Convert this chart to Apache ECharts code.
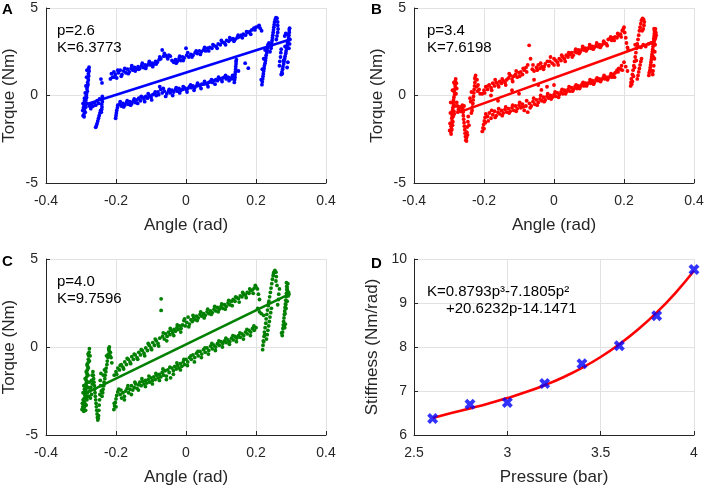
<!DOCTYPE html>
<html><head><meta charset="utf-8">
<script src="https://cdn.jsdelivr.net/npm/echarts@6/dist/echarts.min.js"></script>
<style>html,body{margin:0;padding:0;background:#fff}#c{width:708px;height:488px}</style>
</head><body><div id="c"></div>
<script>
// ---------- data ----------
const panelLetters = ['A', 'B', 'C', 'D'];
const angleTicks = [-0.4, -0.2, 0, 0.2, 0.4];
const torqueTicks = [-5, 0, 5];
const pressureTicks = [2.5, 3, 3.5, 4];
const stiffnessTicks = [6, 7, 8, 9, 10];
const annotA = ['p=2.6', 'K=6.3773'];
const annotB = ['p=3.4', 'K=7.6198'];
const annotC = ['p=4.0', 'K=9.7596'];
const annotD = ['K=0.8793p³-7.1805p²', '+20.6232p-14.1471'];
const angleName = 'Angle (rad)';
const torqueName = 'Torque (Nm)';
const pressureName = 'Pressure (bar)';
const stiffnessName = 'Stiffness (Nm/rad)';

// panel A (p = 2.6 bar) torque vs angle samples
const scatterA = [
[-0.277,1.62],[-0.278,1.5],[-0.277,1.38],[-0.279,1.25],[-0.278,1.12],[-0.28,1.0],[-0.279,0.88],[-0.281,0.75],[-0.28,0.62],[-0.282,0.5],[-0.283,0.38],[-0.282,0.25],[-0.284,0.12],[-0.285,0.0],[-0.284,-0.12],[-0.286,-0.25],[-0.288,-0.38],[-0.287,-0.5],[-0.29,-0.6],[-0.289,-0.72],[-0.291,-0.85],[-0.29,-0.98],[-0.292,-1.1],[-0.291,-1.22],[-0.29,-0.3],[-0.292,-0.5],[-0.293,-0.7],[-0.288,-0.95],[-0.286,-0.65],[-0.283,-0.45],
[-0.276,-0.6],[-0.272,-0.75],[-0.27,-0.5],[-0.266,-0.62],[-0.262,-0.42],[-0.258,-0.55],[-0.254,-0.3],[-0.25,-0.45],[-0.247,-0.2],
[-0.244,-0.85],[-0.246,-1.0],[-0.248,-1.15],[-0.25,-1.3],[-0.252,-1.45],[-0.254,-1.6],[-0.256,-1.72],[-0.258,-1.82],
[-0.239,-0.05],[-0.24,-0.2],[-0.239,-0.35],[-0.241,-0.5],[-0.24,-0.65],[-0.241,-0.8],[-0.242,-0.95],
[-0.243,0.94],[-0.24,0.72],
[-0.201,-1.3],[-0.2,-1.15],[-0.199,-1.0],[-0.198,-0.85],[-0.196,-0.7],[-0.195,-0.55],
[-0.19,-0.5],[-0.185,-0.6],[-0.18,-0.45],[-0.175,-0.55],[-0.17,-0.4],[-0.165,-0.5],[-0.16,-0.35],[-0.155,-0.45],[-0.15,-0.3],[-0.145,-0.4],[-0.14,-0.25],[-0.135,-0.15],[-0.13,-0.3],[-0.125,-0.1],[-0.12,-0.2],[-0.115,-0.05],[-0.11,-0.15],[-0.105,0.0],[-0.1,-0.1],[-0.095,0.05],[-0.09,0.1],[-0.085,0.0],[-0.08,0.2],[-0.075,0.5],[-0.072,0.35],[-0.068,0.15],[-0.062,0.25],[-0.055,0.1],[-0.05,0.25],[-0.045,0.15],[-0.04,0.3],[-0.035,0.2],[-0.03,0.35],[-0.025,0.25],[-0.02,0.4],[-0.015,0.3],[-0.01,0.35],[-0.005,0.45],[0.0,0.35],[0.005,0.4],[0.01,0.5],[0.015,0.45],[0.02,0.55],[0.025,0.45],[0.03,0.55],[0.035,0.6],[0.04,0.55],[0.045,0.65],[0.05,0.65],[0.055,0.7],[0.06,0.65],[0.065,0.75],[0.07,0.8],[0.075,0.75],[0.08,0.85],[0.085,0.9],[0.09,0.85],[0.095,0.95],[0.1,0.95],[0.105,1.0],[0.11,1.05],[0.115,0.95],[0.12,1.05],[0.125,1.0],[0.13,0.95],[0.135,1.05],
[0.138,0.75],[0.139,0.9],[0.14,1.05],[0.14,1.2],[0.141,1.35],[0.142,1.5],[0.142,1.65],[0.143,1.8],[0.143,1.95],[0.144,2.05],
[0.169,1.85],[0.178,1.56],[0.15,1.4],
[0.217,0.62],[0.218,0.78],[0.219,0.95],[0.22,1.1],[0.221,1.25],[0.222,1.4],[0.223,1.55],[0.224,1.7],[0.226,1.85],[0.227,2.0],[0.228,2.15],[0.229,2.3],[0.231,2.45],[0.232,2.6],[0.233,2.75],[0.234,2.9],
[0.243,2.7],[0.244,2.85],[0.245,3.0],[0.246,3.15],[0.247,3.3],[0.248,3.45],[0.249,3.6],[0.25,3.75],[0.251,3.9],[0.252,4.05],[0.253,4.2],[0.255,4.35],[0.257,4.45],[0.26,4.42],[0.262,4.2],[0.262,4.0],[0.263,3.8],[0.262,3.6],[0.26,3.4],[0.258,3.2],
[0.272,1.2],[0.274,1.35],[0.276,1.5],[0.277,1.65],[0.279,1.8],[0.28,1.95],[0.282,2.1],[0.283,2.25],[0.285,2.4],[0.286,2.55],[0.288,2.7],[0.289,2.85],[0.29,3.0],[0.292,3.15],[0.293,3.3],[0.294,3.45],[0.295,3.6],[0.295,3.75],[0.296,3.85],[0.297,3.2],[0.296,2.95],[0.294,2.7],[0.267,1.7],[0.268,1.95],[0.27,2.2],[0.271,2.45],[0.272,2.65],[0.285,3.55],[0.282,3.4],
[-0.216,0.95],[-0.213,1.25],[-0.21,1.05],[-0.206,1.35],[-0.202,1.2],[-0.198,1.0],[-0.193,1.3],[-0.188,1.45],[-0.183,1.2],[-0.178,1.4],[-0.172,1.3],[-0.167,1.5],[-0.162,1.35],[-0.157,1.55],[-0.152,1.45],[-0.147,1.6],[-0.142,1.5],[-0.137,1.65],[-0.132,1.55],[-0.127,1.7],[-0.122,1.6],[-0.117,1.75],[-0.112,1.7],[-0.107,1.8],[-0.102,1.75],[-0.097,1.85],[-0.092,1.8],[-0.087,1.95],[-0.082,1.9],[-0.077,2.05],[-0.072,2.1],[-0.068,2.6],[-0.064,2.25],[-0.059,2.3],[-0.054,2.2],[-0.049,2.3],[-0.04,2.0],[-0.035,1.9],[-0.03,2.05],[-0.025,1.95],[-0.02,2.1],[-0.015,2.0],[-0.01,2.2],[-0.005,2.15],[0.0,2.7],[0.002,2.3],[0.008,2.2],[0.014,2.35],[0.02,2.3],[0.026,2.45],[0.032,2.4],[0.038,2.55],[0.044,2.5],[0.05,2.6],[0.056,2.55],[0.062,2.7],[0.068,2.75],[0.074,2.7],[0.08,2.85],[0.086,2.8],[0.092,2.95],[0.098,2.9],[0.104,3.05],[0.11,3.0],[0.116,3.15],[0.122,3.1],[0.128,3.2],[0.134,3.25],[0.14,3.2],[0.146,3.3],[0.152,3.35],[0.158,3.45],[0.164,3.5],[0.17,3.45],[0.176,3.6],[0.182,3.65],[0.188,3.75],[0.194,3.85],[0.2,3.9],[0.206,3.95],[0.212,3.85],[0.216,3.7],
[-0.205,1.05],[-0.195,1.45],[-0.185,1.1],[-0.175,1.55],[-0.165,1.25],[-0.155,1.7],[-0.145,1.4],[-0.135,1.5],[-0.125,1.85],[-0.115,1.55],[-0.105,1.95],[-0.095,1.65],[-0.085,1.8],[-0.075,2.2],[-0.062,2.4],[-0.052,2.1],[-0.045,2.25],[-0.028,1.85],[-0.018,2.25],[-0.008,2.0],[0.005,2.45],[0.017,2.2],[0.029,2.55],[0.041,2.35],[0.053,2.75],[0.065,2.55],[0.077,2.9],[0.089,2.7],[0.101,3.15],[0.113,2.9],[0.125,3.3],[0.137,3.1],[0.149,3.45],[0.161,3.3],[0.173,3.65],[0.185,3.5],[0.197,3.75],[0.209,4.0],
[-0.188,-0.35],[-0.178,-0.65],[-0.168,-0.3],[-0.158,-0.55],[-0.148,-0.2],[-0.138,-0.45],[-0.128,-0.05],[-0.118,-0.35],[-0.108,0.1],[-0.098,-0.25],[-0.088,0.2],[-0.078,0.05],[-0.065,0.4],[-0.058,-0.05],[-0.048,0.35],[-0.038,0.0],[-0.028,0.45],[-0.018,0.15],[-0.008,0.5],[0.003,0.2],[0.013,0.6],[0.023,0.3],[0.033,0.7],[0.043,0.4],[0.053,0.8],[0.063,0.5],[0.073,0.9],[0.083,0.65],[0.093,1.05],[0.103,0.8],[0.113,1.15],[0.123,0.85],[0.133,1.15],
[-0.283,1.45],[-0.284,1.05],[-0.286,0.55],[-0.288,0.15],[-0.29,-0.15],[-0.294,-0.45],[-0.295,-0.85],[-0.294,-1.15],[0.215,0.9],[0.218,1.5],[0.222,2.1],[0.226,2.6],[0.237,3.0],[0.24,2.5],[0.275,1.25],[0.279,2.0],[0.283,2.8],[0.287,3.5],[0.291,1.9],[0.289,1.6]
];
const fitLineA = [[-0.289, -0.53], [0.297, 3.2]];

// panel B (p = 3.4 bar)
const scatterB = [
[-0.281,0.95],[-0.282,0.8],[-0.283,0.65],[-0.282,0.5],[-0.284,0.35],[-0.285,0.2],[-0.284,0.05],[-0.286,-0.1],[-0.287,-0.25],[-0.288,-0.4],[-0.287,-0.55],[-0.289,-0.7],[-0.29,-0.85],[-0.289,-1.0],[-0.291,-1.15],[-0.292,-1.3],[-0.291,-1.45],[-0.293,-1.6],[-0.294,-1.75],[-0.293,-1.9],[-0.295,-2.05],[-0.294,-2.2],[-0.29,-1.7],[-0.288,-1.2],[-0.286,-0.9],[-0.292,-1.95],[-0.289,-1.5],[-0.279,0.7],[-0.278,0.4],[-0.28,0.1],[-0.283,-0.6],[-0.285,-1.05],
[-0.276,-0.6],[-0.273,-0.8],[-0.27,-0.65],[-0.267,-0.9],[-0.264,-0.7],[-0.26,-0.85],[-0.257,-0.6],[-0.275,-0.95],[-0.278,-0.4],
[-0.262,-0.55],[-0.261,-0.75],[-0.26,-0.95],[-0.259,-1.15],[-0.258,-1.35],[-0.257,-1.55],[-0.256,-1.75],[-0.255,-1.95],[-0.254,-2.15],[-0.253,-2.35],[-0.252,-2.55],[-0.25,-2.4],[-0.249,-2.1],[-0.248,-1.8],[-0.246,-1.5],[-0.245,-1.2],
[-0.224,1.15],[-0.225,0.95],[-0.226,0.75],[-0.227,0.55],[-0.228,0.35],[-0.229,0.15],[-0.23,-0.05],[-0.231,-0.25],[-0.232,-0.45],[-0.233,-0.65],[-0.234,-0.85],[-0.236,-1.0],[-0.22,0.9],[-0.217,0.6],[-0.214,0.35],[-0.211,0.1],[-0.238,-0.35],[-0.24,-0.15],[-0.236,0.2],
[-0.205,-2.05],[-0.203,-1.85],[-0.201,-1.65],[-0.199,-1.45],[-0.197,-1.25],[-0.195,-1.05],[-0.2,-1.9],[-0.196,-1.55],
[-0.19,-1.2],[-0.185,-1.0],[-0.18,-1.3],[-0.175,-1.1],[-0.17,-0.9],[-0.165,-1.15],[-0.16,-0.95],[-0.155,-1.05],[-0.15,-0.85],[-0.145,-1.0],[-0.14,-0.8],[-0.135,-0.95],[-0.13,-0.75],[-0.125,-0.9],[-0.12,-0.7],[-0.115,-0.85],[-0.11,-0.6],[-0.105,-0.75],[-0.1,-0.55],[-0.095,-0.7],[-0.09,-0.5],[-0.085,-0.85],[-0.08,-0.6],[-0.075,-0.95],[-0.07,-0.45],[-0.065,-0.6],[-0.06,-0.35],[-0.055,-0.5],[-0.05,-0.25],[-0.045,-0.4],[-0.04,-0.2],[-0.035,-0.3],[-0.03,-0.1],[-0.025,-0.25],[-0.02,-0.05],[-0.015,-0.15],[-0.01,0.0],[-0.005,-0.1],[0.0,0.05],[0.005,-0.05],[0.01,0.15],[0.015,0.05],[0.02,0.2],[0.025,0.1],[0.03,0.3],[0.035,0.2],[0.04,0.35],[0.045,0.25],[0.05,0.45],[0.055,0.35],[0.06,0.5],[0.065,0.4],[0.07,0.55],[0.075,0.5],[0.08,0.65],[0.085,0.55],[0.09,0.7],[0.095,0.65],[0.1,0.75],[0.105,0.7],[0.11,0.85],[0.115,0.75],[0.12,0.9],[0.125,0.85],[0.13,0.95],[0.135,0.9],[0.14,1.0],[0.145,0.95],[0.15,1.05],[0.155,1.0],[0.16,1.1],[0.165,1.05],[0.17,1.2],[0.175,1.3],[0.18,1.45],[0.185,1.55],[0.19,1.5],[0.195,1.45],
[-0.057,0.9],[-0.036,0.32],[-0.045,0.6],[-0.02,0.5],[0.0,0.6],[0.2,1.9],[0.205,1.65],[0.21,1.4],[-0.18,0.0],[-0.16,-0.3],[-0.12,0.3],[-0.1,0.1],
[-0.205,0.1],[-0.2,0.3],[-0.195,0.5],[-0.19,0.35],[-0.185,0.6],[-0.18,0.45],[-0.175,0.7],[-0.17,0.55],[-0.165,0.75],[-0.16,0.6],[-0.155,0.8],[-0.15,0.7],[-0.145,0.85],[-0.14,0.75],[-0.135,0.9],[-0.13,1.0],[-0.125,1.15],[-0.12,0.95],[-0.115,1.1],[-0.11,1.2],[-0.105,1.05],[-0.1,1.3],[-0.095,1.35],[-0.09,1.2],[-0.085,1.45],[-0.08,1.6],[-0.075,1.75],[-0.071,2.87],[-0.067,2.1],[-0.062,1.5],[-0.057,1.4],[-0.05,1.6],[-0.045,1.75],[-0.04,1.55],[-0.035,1.65],[-0.03,1.5],[-0.025,1.8],[-0.019,1.95],[-0.015,1.7],[-0.01,2.2],[-0.005,1.85],[0.0,1.75],[0.005,2.0],[0.01,1.9],[0.015,2.1],[0.02,2.0],[0.025,2.2],[0.03,2.1],[0.035,2.3],[0.04,2.2],[0.045,2.35],[0.05,2.45],[0.055,2.3],[0.06,2.5],[0.065,2.45],[0.07,2.6],[0.075,2.5],[0.08,2.65],[0.085,2.6],[0.09,2.7],[0.095,2.65],[0.1,2.75],[0.105,2.7],[0.11,2.8],[0.115,2.75],[0.12,2.85],[0.125,2.8],[0.13,2.9],[0.135,2.85],[0.14,2.95],[0.145,3.0],[0.15,2.95],[0.155,3.2],[0.16,3.25],[0.165,3.15],[0.17,3.3],[0.175,3.35],[0.18,3.3],[0.185,3.45],[0.19,3.5],[0.195,3.7],[0.2,3.9],[0.202,3.6],[0.205,3.3],[0.207,3.0],[0.21,2.75],[0.212,2.6],
[0.219,0.55],[0.22,0.75],[0.221,0.95],[0.222,0.65],[0.224,1.2],[0.226,1.45],[0.228,1.7],[0.23,1.95],[0.232,2.2],[0.234,2.45],[0.236,2.7],[0.238,2.95],[0.24,3.2],[0.242,3.45],[0.244,3.7],[0.246,3.9],[0.248,4.1],[0.25,4.3],[0.253,4.4],[0.256,4.35],[0.258,4.2],[0.257,4.0],[0.255,3.8],
[0.238,0.95],[0.24,1.15],[0.242,1.35],[0.244,1.55],[0.246,1.75],[0.248,1.95],[0.25,2.1],
[0.232,2.9],[0.24,2.8],[0.248,2.75],[0.255,2.9],[0.262,2.8],[0.27,2.95],[0.277,3.0],[0.284,3.05],
[0.271,1.15],[0.272,1.3],[0.274,1.45],[0.275,1.6],[0.276,1.75],[0.277,1.9],[0.278,2.05],[0.279,2.2],[0.28,2.35],[0.281,2.5],[0.282,2.65],[0.283,2.8],[0.284,2.95],[0.285,3.1],[0.285,3.25],[0.286,3.4],[0.287,3.55],[0.287,3.7],[0.286,3.82],[0.282,1.2],[0.283,1.4],[0.29,3.3],[0.289,2.9],[0.288,2.5],[0.287,2.1],[0.285,1.7],[0.291,3.6],
[-0.198,0.15],[-0.188,0.55],[-0.178,0.3],[-0.168,0.9],[-0.158,0.5],[-0.148,0.95],[-0.138,0.6],[-0.128,1.25],[-0.118,0.8],[-0.108,1.4],[-0.098,1.1],[-0.088,1.55],[-0.078,1.35],[-0.06,1.75],[-0.048,1.45],[-0.038,1.85],[-0.028,1.65],[-0.012,1.95],[0.0,2.1],[0.012,1.75],[0.022,2.3],[0.032,1.95],[0.042,2.45],[0.052,2.2],[0.062,2.65],[0.072,2.4],[0.082,2.8],[0.092,2.55],[0.102,2.9],[0.112,2.65],[0.122,3.0],[0.132,2.75],[0.142,3.1],[0.152,2.85],[0.162,3.35],[0.172,3.15],[0.182,3.55],[0.192,3.35],[0.198,3.8],
[-0.188,-1.45],[-0.178,-0.85],[-0.168,-1.25],[-0.158,-0.75],[-0.148,-1.15],[-0.138,-0.65],[-0.128,-1.0],[-0.118,-0.55],[-0.108,-0.9],[-0.098,-0.4],[-0.088,-0.65],[-0.078,-0.3],[-0.068,-0.7],[-0.058,-0.15],[-0.048,-0.55],[-0.038,0.0],[-0.028,-0.35],[-0.018,0.1],[-0.008,-0.2],[0.003,0.2],[0.013,-0.1],[0.023,0.35],[0.033,0.1],[0.043,0.5],[0.053,0.25],[0.063,0.6],[0.073,0.4],[0.083,0.75],[0.093,0.55],[0.103,0.9],[0.113,0.65],[0.123,1.0],[0.133,0.8],[0.143,1.15],[0.153,0.9],[0.163,1.25],[0.173,1.05],[0.183,1.35],[0.193,1.7],
[-0.296,-1.0],[-0.297,-1.6],[-0.298,-2.0],[-0.295,-0.4],[-0.29,0.3],[-0.286,0.75],[-0.25,-2.6],[-0.247,-2.25],[-0.243,-1.7],[-0.221,0.5],[-0.218,0.25],[-0.226,1.0],[0.224,0.8],[0.227,1.1],[0.23,1.6],[0.235,2.0],[0.252,3.7],[0.28,1.4],[0.284,2.2],[0.288,3.2],[0.29,3.8],[0.292,3.45]
];
const fitLineB = [[-0.27, -0.95], [0.29, 3.1]];

// panel C (p = 4.0 bar)
const scatterC = [
[-0.276,-0.1],[-0.277,-0.3],[-0.278,-0.5],[-0.279,-0.7],[-0.28,-0.9],[-0.281,-1.1],[-0.282,-1.3],[-0.283,-1.5],[-0.284,-1.7],[-0.285,-1.9],[-0.286,-2.1],[-0.287,-2.3],[-0.288,-2.5],[-0.289,-2.7],[-0.29,-2.9],[-0.291,-3.1],[-0.292,-3.3],[-0.293,-3.5],[-0.292,-3.65],[-0.29,-3.4],[-0.289,-3.2],[-0.291,-2.95],[-0.288,-2.75],[-0.287,-2.6],[-0.29,-2.4],[-0.285,-2.2],[-0.283,-2.0],[-0.286,-2.45],[-0.294,-3.0],[-0.295,-3.4],[-0.28,-1.6],[-0.279,-1.2],[-0.276,-0.8],[-0.274,-0.5],[-0.282,-2.6],[-0.284,-2.9],[-0.279,-2.3],[-0.277,-2.0],
[-0.275,-2.5],[-0.272,-2.3],[-0.27,-2.7],[-0.268,-2.1],[-0.273,-2.9],[-0.278,-2.8],
[-0.266,-1.4],[-0.265,-1.6],[-0.264,-1.8],[-0.263,-2.0],[-0.262,-2.2],[-0.261,-2.4],[-0.26,-2.6],[-0.259,-2.8],[-0.258,-3.0],[-0.257,-3.2],[-0.256,-3.4],[-0.255,-3.6],[-0.254,-3.8],[-0.253,-4.0],[-0.252,-4.15],[-0.25,-3.9],[-0.249,-3.6],[-0.248,-3.3],[-0.247,-3.0],
[-0.219,0.0],[-0.22,-0.2],[-0.222,-0.4],[-0.223,-0.6],[-0.225,-0.8],[-0.226,-1.0],[-0.228,-1.2],[-0.229,-1.4],[-0.231,-1.6],[-0.232,-1.8],[-0.234,-2.0],[-0.235,-2.2],[-0.237,-2.4],[-0.238,-2.6],[-0.24,-2.8],[-0.242,-2.5],[-0.244,-2.2],[-0.245,-1.9],[-0.216,-0.3],[-0.214,-0.6],[-0.212,-0.9],[-0.227,-0.5],[-0.233,-1.3],[-0.236,-1.6],
[-0.206,-3.55],[-0.204,-3.35],[-0.202,-3.15],[-0.2,-2.95],[-0.198,-2.75],[-0.195,-2.55],[-0.192,-2.4],[-0.205,-3.2],[-0.2,-3.4],
[-0.188,-2.7],[-0.184,-2.9],[-0.18,-2.6],[-0.176,-2.8],[-0.172,-2.5],[-0.168,-2.35],[-0.164,-2.6],[-0.16,-2.4],[-0.156,-2.2],[-0.152,-2.45],[-0.148,-2.3],[-0.144,-2.1],[-0.14,-2.35],[-0.136,-2.15],[-0.132,-2.0],[-0.128,-2.2],[-0.124,-1.95],[-0.12,-2.1],[-0.116,-1.9],[-0.112,-2.05],[-0.108,-1.85],[-0.104,-2.0],[-0.1,-1.75],[-0.096,-1.9],[-0.092,-1.7],[-0.088,-1.85],[-0.084,-1.6],[-0.08,-1.75],[-0.076,-1.55],[-0.072,-1.7],[-0.068,-1.45],[-0.064,-1.6],[-0.06,-1.35],[-0.056,-1.65],[-0.052,-1.3],[-0.048,-1.45],[-0.044,-1.75],[-0.04,-1.2],[-0.036,-1.35],[-0.032,-1.1],[-0.028,-1.25],[-0.024,-1.05],[-0.02,-1.2],[-0.016,-0.95],[-0.012,-1.1],[-0.008,-0.85],[-0.004,-1.0],[0.0,-0.7],[0.005,-0.85],[0.01,-0.6],[0.015,-0.7],[0.02,-0.45],[0.025,-0.6],[0.03,-0.35],[0.035,-0.5],[0.04,-0.25],[0.045,-0.4],[0.05,-0.15],[0.055,-0.3],[0.06,-0.05],[0.065,-0.2],[0.07,0.05],[0.075,-0.1],[0.08,0.1],[0.085,0.0],[0.09,0.2],[0.095,0.1],[0.1,0.3],[0.105,0.2],[0.11,0.35],[0.115,0.25],[0.12,0.4],[0.125,0.3],[0.13,0.5],[0.135,0.4],[0.14,0.6],[0.145,0.5],[0.15,0.65],[0.155,0.55],[0.16,0.75],[0.165,0.65],[0.17,0.85],[0.175,0.75],[0.18,0.95],[0.185,0.85],[0.19,1.05],[0.195,0.95],[0.2,1.1],
[-0.205,-1.6],[-0.2,-1.4],[-0.195,-1.2],[-0.19,-1.3],[-0.185,-1.0],[-0.18,-1.15],[-0.175,-0.85],[-0.17,-1.0],[-0.165,-0.7],[-0.16,-0.85],[-0.155,-0.55],[-0.15,-0.7],[-0.145,-0.45],[-0.14,-0.6],[-0.135,-0.3],[-0.13,-0.45],[-0.125,-0.2],[-0.12,-0.35],[-0.115,-0.05],[-0.11,-0.2],[-0.105,0.1],[-0.1,-0.05],[-0.095,0.25],[-0.09,0.1],[-0.085,0.35],[-0.08,0.2],[-0.075,0.5],[-0.071,2.74],[-0.071,2.08],[-0.067,0.6],[-0.062,0.45],[-0.058,0.75],[-0.054,0.6],[-0.05,0.85],[-0.046,0.7],[-0.042,0.95],[-0.038,0.8],[-0.034,1.0],[-0.03,0.9],[-0.026,1.1],[-0.022,1.0],[-0.018,1.2],[-0.014,1.05],[-0.01,1.25],[-0.006,1.5],[-0.002,1.2],[0.002,1.4],[0.006,1.7],[0.01,1.3],[0.014,1.55],[0.018,1.45],[0.022,1.65],[0.026,1.55],[0.03,1.75],[0.035,1.65],[0.04,1.85],[0.045,1.75],[0.05,1.9],[0.055,1.8],[0.06,2.0],[0.065,1.9],[0.07,2.05],[0.075,1.95],[0.08,2.15],[0.085,2.05],[0.09,2.25],[0.095,2.15],[0.1,2.3],[0.105,2.2],[0.11,2.4],[0.115,2.3],[0.12,2.5],[0.125,2.4],[0.13,2.6],[0.135,2.7],[0.14,2.6],[0.145,2.8],[0.15,2.75],[0.155,2.9],[0.16,2.85],[0.165,3.0],[0.17,2.95],[0.175,3.1],[0.18,3.05],[0.185,3.2],[0.19,3.25],[0.195,3.35],[0.2,3.4],[0.204,3.3],[0.207,3.0],[0.21,2.7],
[0.21,2.0],[0.215,1.9],[0.222,1.8],[0.205,2.2],
[0.219,-0.15],[0.22,0.1],[0.221,0.35],[0.223,0.6],[0.224,0.85],[0.226,1.1],[0.228,1.35],[0.229,1.6],[0.231,1.85],[0.233,2.1],[0.235,2.35],[0.237,2.6],[0.239,2.85],[0.241,3.1],[0.243,3.35],[0.245,3.6],[0.247,3.85],[0.249,4.05],[0.251,4.25],[0.254,4.35],[0.257,4.25],[0.258,4.0],[0.257,3.75],[0.26,3.5],
[0.23,0.45],[0.232,0.7],[0.234,0.95],[0.236,1.2],[0.238,1.45],[0.24,1.7],[0.242,1.95],[0.244,2.2],
[0.262,2.4],[0.264,2.7],[0.265,3.0],[0.267,3.3],
[0.275,0.65],[0.276,0.85],[0.277,1.05],[0.278,1.25],[0.279,1.45],[0.28,1.65],[0.281,1.85],[0.282,2.05],[0.283,2.25],[0.284,2.45],[0.285,2.65],[0.286,2.85],[0.287,3.05],[0.288,3.25],[0.288,3.45],[0.287,3.65],[0.29,3.0],[0.292,2.9],[0.29,3.2],[0.289,2.6],[0.286,2.2],[0.284,1.3],[0.282,1.1],[0.29,2.95],[0.293,3.1],
[-0.198,-1.55],[-0.188,-1.05],[-0.178,-1.25],[-0.168,-0.65],[-0.158,-0.95],[-0.148,-0.4],[-0.138,-0.7],[-0.128,-0.15],[-0.118,-0.5],[-0.108,0.2],[-0.098,-0.15],[-0.088,0.45],[-0.078,0.05],[-0.065,0.8],[-0.055,0.35],[-0.045,1.05],[-0.035,0.65],[-0.025,1.25],[-0.015,0.85],[-0.004,1.6],[0.008,1.15],[0.02,1.8],[0.032,1.5],[0.042,2.0],[0.052,1.65],[0.062,2.15],[0.072,1.85],[0.082,2.3],[0.092,2.0],[0.102,2.45],[0.112,2.15],[0.122,2.65],[0.132,2.35],[0.142,2.85],[0.152,2.55],[0.162,3.1],[0.172,2.8],[0.182,3.3],[0.192,3.05],[0.198,3.5],
[-0.186,-2.45],[-0.176,-3.0],[-0.166,-2.2],[-0.156,-2.7],[-0.146,-2.0],[-0.136,-2.45],[-0.126,-1.8],[-0.116,-2.25],[-0.106,-1.65],[-0.096,-2.1],[-0.086,-1.5],[-0.076,-1.9],[-0.066,-1.25],[-0.056,-1.85],[-0.046,-1.15],[-0.036,-1.55],[-0.026,-0.9],[-0.016,-1.3],[-0.006,-0.7],[0.004,-1.05],[0.014,-0.5],[0.024,-0.85],[0.034,-0.25],[0.044,-0.6],[0.054,-0.05],[0.064,-0.4],[0.074,0.2],[0.084,-0.2],[0.094,0.35],[0.104,0.0],[0.114,0.5],[0.124,0.15],[0.134,0.65],[0.144,0.3],[0.154,0.8],[0.164,0.45],[0.174,1.0],[0.184,0.65],[0.194,1.2],
[-0.296,-3.2],[-0.297,-3.55],[-0.294,-2.6],[-0.292,-2.2],[-0.288,-1.8],[-0.285,-1.4],[-0.283,-1.0],[-0.28,-0.4],[-0.287,-3.6],[-0.285,-3.3],[-0.283,-3.0],[-0.281,-2.8],[-0.27,-1.9],[-0.268,-1.6],[-0.251,-4.05],[-0.246,-2.7],[-0.243,-1.5],[-0.221,-0.1],[-0.217,-0.5],[0.222,0.3],[0.225,0.7],[0.236,2.5],[0.25,4.15],[0.273,0.8],[0.28,1.2],[0.283,1.9],[0.285,2.4],[0.289,3.35],[0.291,3.6],[0.294,3.0]
];
const fitLineC = [[-0.274, -2.51], [0.295, 3.0]];

const pressures = [2.6, 2.8, 3.0, 3.2, 3.4, 3.6, 3.8, 4.0];
const stiffness = [6.3773, 6.70, 6.74, 7.17, 7.6198, 8.03, 8.71, 9.7596];
const fitPressure = [2.6, 2.7, 2.8, 2.9, 3.0, 3.1, 3.2, 3.3, 3.4, 3.5, 3.6, 3.7, 3.8, 3.9, 4.0];
const fitStiffness = [6.388, 6.498, 6.605, 6.717, 6.839, 6.975, 7.132, 7.313, 7.525, 7.773, 8.063, 8.397, 8.784, 9.227, 9.733];

// ---------- chart ----------
const FONT = '"Liberation Sans", Arial, Helvetica, sans-serif';
const AX = '#262626';
const BLUE = '#0000ff', RED = '#ff0000', GREEN = '#008000';

const grids = [
  {left: 46, top: 8, width: 280, height: 175},
  {left: 414, top: 8, width: 280, height: 175},
  {left: 46, top: 259, width: 280, height: 176},
  {left: 414, top: 259, width: 280, height: 176}
].map(g => Object.assign({containLabel: false, outerBoundsMode: 'none'}, g));

function fmt(v) { return String(Math.round(v * 100) / 100); }

function axis(idx, ticks, name, nameGap, labelMargin) {
  return {
    type: 'value', gridIndex: idx,
    min: ticks[0], max: ticks[ticks.length - 1], interval: ticks[1] - ticks[0],
    name: name, nameLocation: 'middle', nameGap: nameGap,
    nameTextStyle: {color: AX, fontSize: 17, fontFamily: FONT},
    axisLine: {show: true, onZero: false, lineStyle: {color: AX, width: 1}},
    axisTick: {show: true, inside: true, length: 4, lineStyle: {color: AX, width: 1}},
    axisLabel: {color: AX, fontSize: 14, fontFamily: FONT, margin: labelMargin, formatter: fmt,
      showMinLabel: true, showMaxLabel: true, hideOverlap: false},
    splitLine: {show: true, showMinLine: true, showMaxLine: true, lineStyle: {color: '#e2e2e2', width: 1}}
  };
}

const xAxes = [
  axis(0, angleTicks, angleName, 34, 11),
  axis(1, angleTicks, angleName, 34, 11),
  axis(2, angleTicks, angleName, 34, 11),
  axis(3, pressureTicks, pressureName, 34, 11)
];
const yAxes = [
  axis(0, torqueTicks, torqueName, 28, 8),
  axis(1, torqueTicks, torqueName, 28, 8),
  axis(2, torqueTicks, torqueName, 28, 8),
  axis(3, stiffnessTicks, stiffnessName, 33, 7)
];

function scatter(i, data, color) {
  return {type: 'scatter', xAxisIndex: i, yAxisIndex: i, data: data, symbol: 'circle', symbolSize: 3.8,
    itemStyle: {color: color, opacity: 1}, silent: true, z: 2, large: false};
}
function fit(i, data, color, smooth) {
  return {type: 'line', xAxisIndex: i, yAxisIndex: i, data: data, symbol: 'none', smooth: !!smooth,
    lineStyle: {color: color, width: 2.6}, silent: true, z: 3};
}

const XPATH = 'path://M3,0 L6,3 L9,0 L12,3 L9,6 L12,9 L9,12 L6,9 L3,12 L0,9 L3,6 L0,3 Z';

const series = [
  scatter(0, scatterA, BLUE), fit(0, fitLineA, BLUE),
  scatter(1, scatterB, RED), fit(1, fitLineB, RED),
  scatter(2, scatterC, GREEN), fit(2, fitLineC, GREEN),
  fit(3, fitPressure.map((p, k) => [p, fitStiffness[k]]), RED, true),
  {type: 'scatter', xAxisIndex: 3, yAxisIndex: 3, data: pressures.map((p, k) => [p, stiffness[k]]),
    symbol: XPATH, symbolSize: 11, itemStyle: {color: BLUE}, silent: true, z: 4}
];

function txt(x, y, s, bold) {
  return {type: 'text', x: x, y: y, silent: true, z: 10,
    style: {text: s, fill: '#000', font: (bold ? 'bold 15px ' : '15px ') + FONT, verticalAlign: 'middle', align: 'left'}};
}

const graphic = [
  txt(2, 10, panelLetters[0], true), txt(371, 10, panelLetters[1], true),
  txt(2, 262, panelLetters[2], true), txt(371, 264, panelLetters[3], true),
  txt(57, 30.5, annotA[0]), txt(57, 48, annotA[1]),
  txt(427, 30.5, annotB[0]), txt(427, 48, annotB[1]),
  txt(57, 281.5, annotC[0]), txt(57, 299, annotC[1]),
  txt(427, 292, annotD[0]), txt(446, 309, annotD[1])
];

const chart = echarts.init(document.getElementById('c'), null, {renderer: 'canvas'});
chart.setOption({
  animation: false,
  backgroundColor: '#ffffff',
  textStyle: {fontFamily: FONT},
  grid: grids, xAxis: xAxes, yAxis: yAxes, series: series, graphic: graphic
});
</script></body></html>
